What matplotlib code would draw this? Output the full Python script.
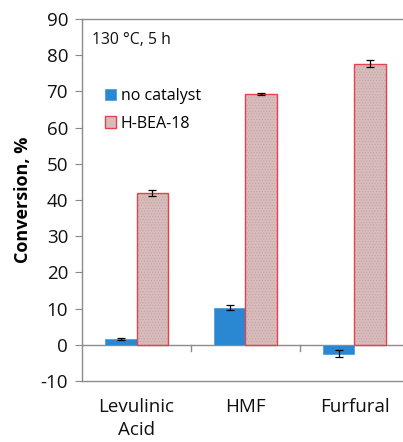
import matplotlib
matplotlib.use("Agg")
import matplotlib.pyplot as plt
from matplotlib.patches import Patch
import numpy as np

categories = ["Levulinic\nAcid", "HMF", "Furfural"]
no_catalyst = [1.5, 10.3, -2.5]
no_catalyst_err = [0.3, 0.6, 1.0]
hbea = [42.0, 69.3, 77.7]
hbea_err = [0.8, 0.3, 1.0]
series_names = ["no catalyst", "H-BEA-18"]
yticks = list(range(-10, 91, 10))

plt.rcParams['font.family'] = ['Open Sans', 'DejaVu Sans']
plt.rcParams['hatch.linewidth'] = 0.5

fig = plt.figure(figsize=(4.03, 4.42), dpi=100)
W, H = 403, 442
ax = fig.add_axes([82 / W, 1 - 381 / H, (409 - 82) / W, (381 - 19) / H])

x = np.arange(len(categories))
bw = 0.285
blue = "#2a88d2"
pink = "#d8bcbc"
red = "#e8404c"

ax.bar(x - bw / 2, no_catalyst, bw, color=blue, edgecolor="#4f9fdb", linewidth=0.6, zorder=3)
# stippled fill layer
ax.bar(x + bw / 2, hbea, bw, color=pink, edgecolor="#c7a3a3", linewidth=0,
       hatch="......", zorder=3)
# red outline layer
ax.bar(x + bw / 2, hbea, bw, fill=False, edgecolor=red, linewidth=1.0, zorder=3)

ax.errorbar(x - bw / 2, no_catalyst, yerr=no_catalyst_err, fmt="none", ecolor="black",
            elinewidth=0.9, capsize=3, capthick=0.9, zorder=4)
ax.errorbar(x + bw / 2, hbea, yerr=hbea_err, fmt="none", ecolor="black",
            elinewidth=0.9, capsize=3, capthick=0.9, zorder=4)

ax.set_xlim(-0.5, len(categories) - 0.5)
ax.set_ylim(-10, 90)
ax.set_yticks(yticks)
ax.set_yticklabels([str(t) for t in yticks], fontsize=13.5, color="#111111")
ax.set_xticks(x)
ax.set_xticklabels(categories, fontsize=13.5, color="#111111", linespacing=1.35)
ax.tick_params(axis="x", length=0, pad=12)
ax.tick_params(axis="y", length=5, color="#888888", direction="out", pad=5)

ax.axhline(0, color="#8c8c8c", linewidth=1.0, zorder=2)
bounds = np.arange(len(categories) + 1) - 0.5
for b in bounds[1:-1]:
    ax.plot([b, b], [0, -1.6], color="#8c8c8c", linewidth=1.0, zorder=2, clip_on=False)

for s in ["left", "bottom", "top", "right"]:
    ax.spines[s].set_color("#8c8c8c")
    ax.spines[s].set_linewidth(1.0)

ax.set_ylabel("Conversion, %", fontsize=13, fontweight="bold", labelpad=6)

ax.text(0.03, 0.965, "130 \u00b0C, 5 h", transform=ax.transAxes, fontsize=11.3,
        va="top", ha="left", color="#111111")

handles = [Patch(facecolor=blue, edgecolor="#4f9fdb", linewidth=0.6),
           Patch(facecolor=pink, edgecolor=red, linewidth=1.0)]
ax.legend(handles, series_names, loc="upper left", bbox_to_anchor=(0.05, 0.826),
          frameon=False, fontsize=11.5, handlelength=0.7, handleheight=0.7,
          handletextpad=0.3, labelspacing=0.7, borderaxespad=0)

fig.savefig("out.png", dpi=100)
